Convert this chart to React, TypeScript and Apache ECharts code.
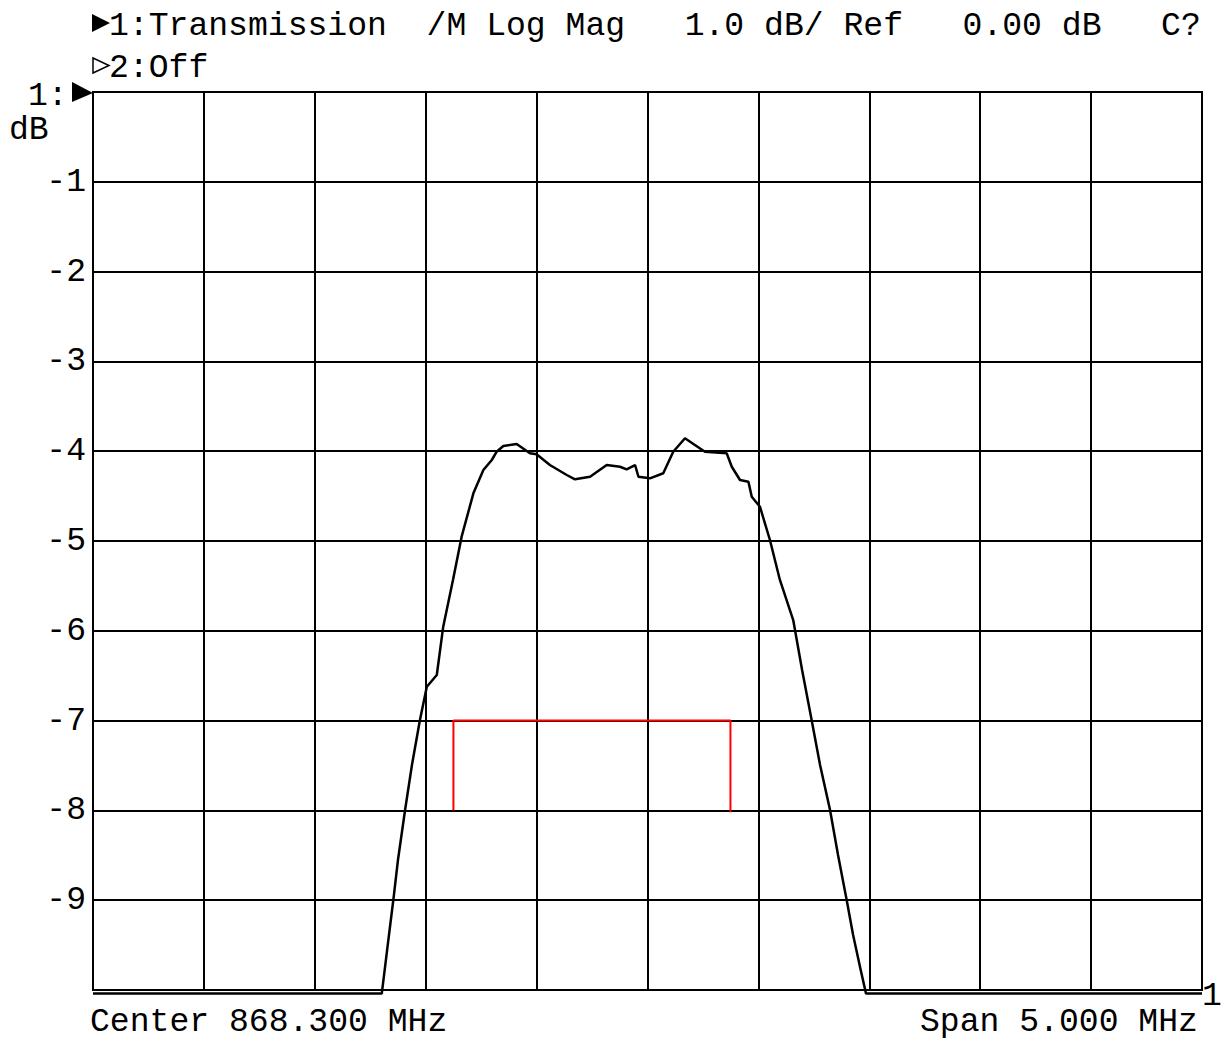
import React, { useEffect, useRef } from "react";
import * as echarts from "echarts";

const CENTER_MHZ = 868.3;
const HALF_SPAN_MHZ = 2.5;

// Trace 1: transmission (MHz, dB)
const freqMHz = [
  865.8, 867.102, 867.126, 867.154, 867.175, 867.207, 867.238, 867.274, 867.305, 867.35,
  867.379, 867.423, 867.462, 867.515, 867.56, 867.598, 867.62, 867.65, 867.71, 867.77,
  867.8, 867.86, 867.936, 867.973, 868.041, 868.116, 868.176, 868.206, 868.244, 868.259,
  868.311, 868.371, 868.416, 868.469, 868.507, 868.559, 868.657, 868.68, 868.717, 868.755,
  868.77, 868.807, 868.852, 868.897, 868.957, 868.997, 869.04, 869.078, 869.123, 869.159,
  869.198, 869.227, 869.258, 869.285, 870.8,
];
const magDb = [
  -10.04, -10.04, -9.555, -8.998, -8.552, -7.996, -7.494, -6.993, -6.623, -6.492,
  -5.954, -5.434, -4.952, -4.469, -4.209, -4.098, -4.006, -3.942, -3.92, -4.023,
  -4.035, -4.154, -4.265, -4.313, -4.284, -4.154, -4.173, -4.202, -4.154, -4.284,
  -4.302, -4.246, -4.006, -3.856, -3.92, -4.006, -4.023, -4.173, -4.321, -4.34,
  -4.507, -4.618, -4.989, -5.434, -5.88, -6.437, -6.993, -7.494, -7.996, -8.497,
  -8.998, -9.388, -9.741, -10.04, -10.04,
];

// Limit mask (red)
const maskFreqMHz = [867.425, 867.425, 868.674, 868.674];
const maskDb = [-8, -7, -7, -8.02];

const titleLine1 = "1:Transmission  /M Log Mag   1.0 dB/ Ref   0.00 dB   C?";
const titleLine2 = "2:Off";
const footerLeft = "Center 868.300 MHz";
const footerRight = "Span 5.000 MHz";

const FONT = "Liberation Mono";
const FS = 33.1;

export default function App() {
  const ref = useRef<HTMLDivElement>(null);
  useEffect(() => {
    if (!ref.current) return;
    const chart = echarts.init(ref.current, null, { renderer: "svg" });
    const trace = freqMHz.map((f, i) => [f - CENTER_MHZ, magDb[i]]);
    const mask = maskFreqMHz.map((f, i) => [f - CENTER_MHZ, maskDb[i]]);
    const txt = (text: string, x: number, y: number, align = "left") => ({
      type: "text",
      x,
      y,
      silent: true,
      style: {
        text,
        fontFamily: FONT,
        fontSize: FS,
        fill: "#000",
        align,
        verticalAlign: "middle",
      },
    });
    chart.setOption({
      animation: false,
      backgroundColor: "#fff",
      grid: {
        left: 93,
        top: 92,
        width: 1109,
        height: 898,
        show: true,
        borderColor: "#000",
        borderWidth: 2,
        backgroundColor: "transparent",
      },
      xAxis: {
        type: "value",
        min: -HALF_SPAN_MHZ,
        max: HALF_SPAN_MHZ,
        interval: 0.5,
        axisLabel: { show: false },
        axisTick: { show: false },
        axisLine: { show: true, lineStyle: { color: "#000", width: 2 } },
        splitLine: { show: true, lineStyle: { color: "#000", width: 2 } },
      },
      yAxis: {
        type: "value",
        min: -10,
        max: 0,
        interval: 1,
        axisTick: { show: false },
        axisLine: { show: true, lineStyle: { color: "#000", width: 2 } },
        splitLine: { show: true, lineStyle: { color: "#000", width: 2 } },
        axisLabel: {
          showMinLabel: false,
          showMaxLabel: false,
          margin: 7,
          padding: [8, 0, 0, 0],
          color: "#000",
          fontFamily: FONT,
          fontSize: FS,
          formatter: (v: number) => String(v),
        },
      },
      series: [
        {
          type: "line",
          data: trace,
          showSymbol: false,
          clip: false,
          lineStyle: { color: "#000", width: 2.5 },
          z: 3,
        },
        {
          type: "line",
          data: mask,
          showSymbol: false,
          clip: false,
          lineStyle: { color: "#ff0000", width: 2 },
          z: 4,
        },
      ],
      graphic: [
        {
          type: "polygon",
          shape: { points: [[92, 14], [92, 32], [110, 23]] },
          style: { fill: "#000" },
        },
        txt(titleLine1, 109, 26),
        {
          type: "polygon",
          shape: { points: [[93, 58], [93, 73], [109, 65.5]] },
          style: { fill: "none", stroke: "#000", lineWidth: 1.5 },
        },
        txt(titleLine2, 109, 68),
        txt("1:", 28, 96),
        {
          type: "polygon",
          shape: { points: [[72, 82], [72, 102], [93, 93]] },
          style: { fill: "#000" },
        },
        txt("dB", 9, 130),
        txt(footerLeft, 90, 1022),
        txt(footerRight, 920, 1022),
        txt("1", 1202, 996),
      ],
    });
    return () => chart.dispose();
  }, []);
  return (
    <div
      ref={ref}
      style={{ position: "absolute", left: 0, top: 0, width: 1227, height: 1044 }}
    />
  );
}
